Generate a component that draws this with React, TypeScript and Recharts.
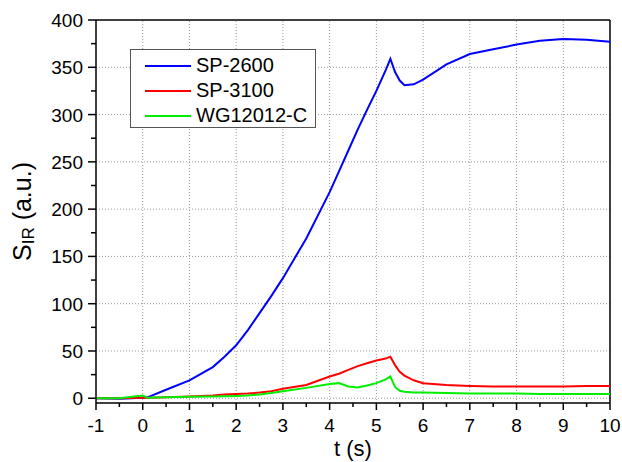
import React from 'react'
import { LineChart, Line, XAxis, YAxis, ReferenceLine, Legend } from 'recharts'

// sampled time axis (s)
const times = [-1, -0.5, 0, 0.1, 0.5, 1, 1.5, 1.75, 2, 2.25, 2.5, 2.75, 3, 3.5, 4, 4.2, 4.4, 4.6, 4.8, 5, 5.2, 5.3, 5.4, 5.5, 5.6, 5.8, 6, 6.5, 7, 7.5, 8, 8.5, 9, 9.5, 10]
const sp2600 = [0, -0.5, 0.5, 1, 9, 19, 33, 44, 56, 72, 90, 108, 127, 169, 218, 240, 262, 284, 305, 325, 347, 359, 345, 336, 331, 332, 337, 353, 364, 369, 374, 378, 380, 379, 377]
const sp3100 = [0, 0, 0.5, 0.5, 1, 2, 3, 4, 4.5, 5, 6, 7.5, 10, 14, 23, 26, 30, 34, 37, 40, 42, 44, 35, 28, 24, 19, 16, 14, 13, 12.5, 12.5, 12.5, 12.5, 13, 13]
const wg12012c = [0, 0, 3, 0.5, 1, 1.5, 2, 2.2, 2.5, 3, 4, 5.5, 7.5, 11, 15, 16, 12.5, 11.5, 13.5, 16, 20, 23, 12, 8, 7, 6, 6, 5.5, 5, 5, 5, 4.5, 4.5, 4.5, 4.5]

const xMajorTicks = [-1, 0, 1, 2, 3, 4, 5, 6, 7, 8, 9, 10]
const xMinorTicks = [-0.5, 0.5, 1.5, 2.5, 3.5, 4.5, 5.5, 6.5, 7.5, 8.5, 9.5]
const yMajorTicks = [0, 50, 100, 150, 200, 250, 300, 350, 400]
const yMinorTicks = [25, 75, 125, 175, 225, 275, 325, 375]

const xGrid = [0, 1, 2, 3, 4, 5, 6, 7, 8, 9]
const yGrid = [0, 50, 100, 150, 200, 250, 300, 350]

const data = times.map((t, i) => ({
    t,
    sp2600: sp2600[i],
    sp3100: sp3100[i],
    wg12012c: wg12012c[i],
}))

const font = '"Liberation Sans", Arial, sans-serif'

const XTick = (props: any) => {
    const { x, y, payload } = props
    const major = xMajorTicks.includes(payload.value)
    return (
        <g>
            <line x1={x} y1={y} x2={x} y2={y + (major ? 7 : 4)} stroke="#000" strokeWidth={1.5} />
            {major && (
                <text x={x} y={y + 29} textAnchor="middle" fontSize={19} fontFamily={font} fill="#000">
                    {payload.value}
                </text>
            )}
        </g>
    )
}

const YTick = (props: any) => {
    const { x, y, payload } = props
    const major = yMajorTicks.includes(payload.value)
    return (
        <g>
            <line x1={x} y1={y} x2={x - (major ? 8 : 5)} y2={y} stroke="#000" strokeWidth={1.5} />
            {major && (
                <text x={x - 13} y={y + 7} textAnchor="end" fontSize={19} fontFamily={font} fill="#000">
                    {payload.value}
                </text>
            )}
        </g>
    )
}

const renderYLabel = (props: any) => {
    const { viewBox } = props
    const cx = 22
    const cy = viewBox.y + viewBox.height / 2
    return (
        <text
            x={cx}
            y={cy}
            transform={`rotate(-90 ${cx} ${cy})`}
            textAnchor="middle"
            dominantBaseline="central"
            fontSize={25}
            fontFamily={font}
            fill="#000"
        >
            S<tspan fontSize={17} dy={6}>IR</tspan>
            <tspan dy={-6}> (a.u.)</tspan>
        </text>
    )
}

const renderXLabel = (props: any) => {
    const { viewBox } = props
    return (
        <text
            x={viewBox.x + viewBox.width / 2}
            y={456}
            textAnchor="middle"
            fontSize={22}
            fontFamily={font}
            fill="#000"
        >
            t (s)
        </text>
    )
}

const renderLegend = (props: any) => (
    <div
        style={{
            border: '1px solid #555',
            background: '#fff',
            width: 186,
            height: 79,
            boxSizing: 'border-box',
            padding: '3px 0 0 14px',
            fontFamily: font,
            fontSize: 20,
            color: '#000',
        }}
    >
        {props.payload.map((entry: any) => (
            <div key={entry.value} style={{ display: 'flex', alignItems: 'center', height: 25 }}>
                <span style={{ width: 46, height: 2, background: entry.color, marginRight: 5 }} />
                <span>{entry.value}</span>
            </div>
        ))}
    </div>
)

export default function App() {
    return (
        <div style={{ position: 'absolute', left: 0, top: 0, background: '#fff' }}>
            <LineChart width={622} height={462} data={data} margin={{ top: 20, right: 12, bottom: 0, left: 0 }}>
                {xGrid.map((v) => (
                    <ReferenceLine key={'gx' + v} x={v} stroke="#999" strokeDasharray="1 2" />
                ))}
                {yGrid.map((v) => (
                    <ReferenceLine key={'gy' + v} y={v} stroke="#999" strokeDasharray="1 2" />
                ))}
                <ReferenceLine y={400} stroke="#000" strokeWidth={1.5} />
                <ReferenceLine x={10} stroke="#000" strokeWidth={1.5} />
                <XAxis
                    dataKey="t"
                    type="number"
                    domain={[-1, 10]}
                    ticks={[...xMajorTicks, ...xMinorTicks]}
                    interval={0}
                    height={59}
                    tickSize={0}
                    tickMargin={0}
                    tickLine={false}
                    tick={<XTick />}
                    axisLine={{ stroke: '#000', strokeWidth: 1.5 }}
                    label={renderXLabel}
                />
                <YAxis
                    type="number"
                    domain={[-5, 400]}
                    ticks={[...yMajorTicks, ...yMinorTicks]}
                    interval={0}
                    width={96}
                    tickSize={0}
                    tickMargin={0}
                    tickLine={false}
                    tick={<YTick />}
                    axisLine={{ stroke: '#000', strokeWidth: 1.5 }}
                    label={renderYLabel}
                />
                <Legend
                    layout="vertical"
                    align="center"
                    verticalAlign="middle"
                    content={renderLegend}
                    wrapperStyle={{ left: 130, top: 49, width: 186 }}
                />
                <Line type="linear" dataKey="sp2600" name="SP-2600" stroke="#0000ff" strokeWidth={2} dot={false} isAnimationActive={false} />
                <Line type="linear" dataKey="sp3100" name="SP-3100" stroke="#ff0000" strokeWidth={2} dot={false} isAnimationActive={false} />
                <Line type="linear" dataKey="wg12012c" name="WG12012-C" stroke="#00ee00" strokeWidth={2} dot={false} isAnimationActive={false} />
            </LineChart>
        </div>
    )
}
